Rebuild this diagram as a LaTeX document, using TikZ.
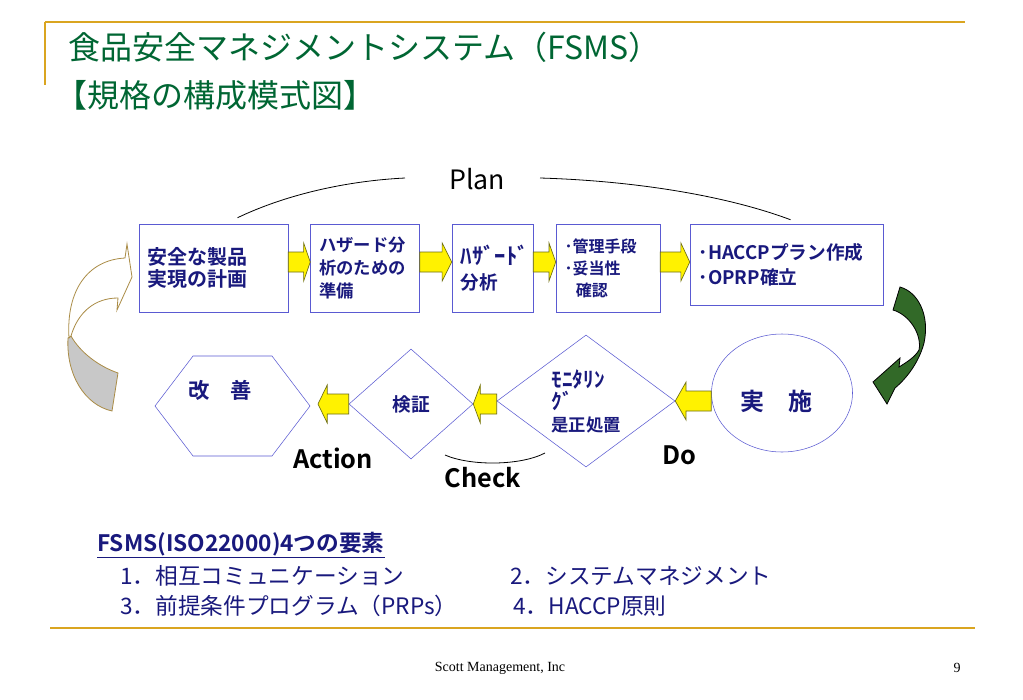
\documentclass[tikz,border=0pt]{standalone}
\usepackage{fontspec}
\setmainfont{Noto Sans CJK JP}[BoldFont={Noto Sans CJK JP Bold}]
\newfontfamily\footfont{Liberation Serif}
\usepackage{tikz}
\usetikzlibrary{shapes.geometric,calc}

\definecolor{titlegreen}{RGB}{0,102,51}
\definecolor{navytext}{RGB}{25,25,125}
\definecolor{shapeblue}{RGB}{90,90,210}
\definecolor{rulegold}{RGB}{218,165,32}
\definecolor{arrowgreen}{RGB}{50,105,40}
\definecolor{curvetan}{RGB}{170,140,70}
\definecolor{curvegray}{RGB}{200,200,200}
\definecolor{arrowedge}{RGB}{110,110,20}

\newcommand{\blockarrow}[2]{%
  \coordinate (ba-s) at #1;
  \coordinate (ba-e) at #2;
  \draw[blockarr] ($(ba-s)+(0,7.5pt)$) -- ($(ba-s)!0.7!(ba-e)+(0,7.5pt)$)
    -- ($(ba-s)!0.7!(ba-e)+(0,14.25pt)$) -- (ba-e)
    -- ($(ba-s)!0.7!(ba-e)-(0,14.25pt)$) -- ($(ba-s)!0.7!(ba-e)-(0,7.5pt)$)
    -- ($(ba-s)-(0,7.5pt)$) -- cycle;}

\begin{document}
\begin{tikzpicture}[x=0.75pt,y=-0.75pt,
  goldrule/.style={draw=rulegold,line width=1.2pt},
  titletext/.style={anchor=west,inner sep=0pt,text=titlegreen,font=\fontsize{24}{28}\selectfont},
  box/.style={draw=shapeblue,thin,align=left,inner xsep=6.5pt,inner ysep=0pt,minimum height=66pt,text=navytext},
  shapeline/.style={draw=shapeblue,thin},
  shapetext/.style={text=navytext,inner sep=0pt},
  blockarr/.style={fill=yellow,draw=arrowedge,line width=0.5pt},
  thinline/.style={draw=black,line width=0.6pt},
  pdca/.style={font=\fontsize{19}{21}\selectfont\bfseries},
  listitem/.style={anchor=west,inner sep=0pt,text=navytext,font=\fontsize{17}{20}\selectfont}]

\fill[white] (0,0) rectangle (1023,699);
\useasboundingbox (0,0) rectangle (1023,699);

\draw[goldrule] (45,22) -- (965,22);
\draw[goldrule] (45,22) -- (45,85);
\draw[goldrule] (50,628) -- (975,628);

\node[titletext] (title1) at (68,47) {食品安全マネジメントシステム（FSMS）};
\node[titletext] (title2) at (55,95) {【規格の構成模式図】};

% plan row
\node[box,text width=98.75pt,font=\fontsize{15}{17}\selectfont\bfseries] (b1) at (213.5,268) {安全な製品\\実現の計画};
\node[box,text width=68.75pt,font=\fontsize{13}{17}\selectfont\bfseries] (b2) at (365,268) {ハザード分\\析のための\\準備};
\node[box,text width=47.75pt,font=\fontsize{14}{19}\selectfont\bfseries] (b3) at (492.5,268) {{\fontsize{17}{19}\selectfont ﾊｻﾞｰﾄﾞ}\\分析};
\node[box,text width=65pt,font=\fontsize{12}{16.5}\selectfont\bfseries] (b4) at (608,268) {･管理手段\\･妥当性\\\hspace*{0.7em}確認};
\node[box,text width=131.75pt,minimum height=60.75pt,font=\fontsize{14}{19}\selectfont\bfseries] (b5) at (786.5,264.5) {･HACCPプラン作成\\･OPRP確立};

\coordinate (rowA) at (0,262);
\blockarrow{(b1.east |- rowA)}{(b2.west |- rowA)}
\blockarrow{(b2.east |- rowA)}{(b3.west |- rowA)}
\blockarrow{(b3.east |- rowA)}{(b4.west |- rowA)}
\blockarrow{(b4.east |- rowA)}{(b5.west |- rowA)}

\node[font=\fontsize{20}{22}\selectfont] (plan) at (477,179) {Plan};
\coordinate (planL) at (405,178);
\coordinate (planR) at (540,178);
\draw[thinline] (planL) .. controls (345,181) and (285,195) .. ([shift={(24,-6)}]b1.north);
\draw[thinline] (planR) .. controls (640,181) and (730,197) .. ([shift={(4,-4)}]b5.north);

% do / check / act row
\draw[shapeline] (155,406) -- (193,356) -- (272,356) -- (310,406) coordinate (hexE) -- (272,456) -- (193,456) -- cycle;
\node[shapetext,font=\fontsize{16}{18}\selectfont\bfseries] (kaizen) at (220,390) {改　善};
\node[diamond,shapeline,minimum width=93pt,minimum height=82.5pt,aspect=1.13,inner sep=0pt,text=navytext,font=\fontsize{14}{16}\selectfont\bfseries] (d1) at (411,404) {検証};
\node[diamond,shapeline,minimum width=133.5pt,minimum height=99pt,aspect=1.35,inner sep=0pt,align=left,text=navytext,font=\fontsize{13}{16.5}\selectfont\bfseries] (d2) at (586,401) {{\fontsize{16}{16.5}\selectfont ﾓﾆﾀﾘﾝ}\\{\fontsize{16}{16.5}\selectfont ｸﾞ}\\是正処置};
\node[ellipse,shapeline,minimum width=105.75pt,minimum height=88.5pt,inner sep=0pt] (el) at (782,393) {};
\node[shapetext,font=\fontsize{18}{20}\selectfont\bfseries] (jisshi) at (776,401) {実　施};

\coordinate (kaizenIn) at (318,404);
\blockarrow{(d1.west)}{(kaizenIn)}
\blockarrow{(d2.west |- d1)}{(d1.east)}
\blockarrow{(el.west |- d2)}{(d2.east)}

\node[pdca] (action) at (333,458) {Action};
\node[pdca] (check) at (483,478) {Check};
\node[pdca] (do) at (679,455) {Do};
\draw[thinline] (445,455) .. controls (470,466) and (520,466) .. (545,453);

% loop arrows
\draw[draw=curvetan,fill=curvegray,line width=0.6pt] (68,338) .. controls (66,375) and (85,405) .. (112,411)
  -- (118,373) .. controls (98,366) and (80,352) .. (71,336) -- cycle;
\draw[draw=curvetan,fill=white,line width=0.6pt] (69,338) .. controls (66,290) and (88,260) .. (125,258)
  -- (127,244) -- (132,277) -- (117,310) -- (118,298) .. controls (95,298) and (78,312) .. (71,336) -- cycle;
\draw[draw=black,fill=arrowgreen,line width=0.6pt] (900,287) .. controls (918,292) and (930,315) .. (924,343)
  .. controls (919,362) and (907,378) .. (895,388) -- (887,404) -- (873,382) -- (900,358) -- (899,367)
  .. controls (907,362) and (915,357) .. (919,350) .. controls (922,335) and (910,315) .. (893,310) -- cycle;

% elements
\node[listitem,font=\fontsize{17}{20}\selectfont\bfseries] (elemhead) at (97,545) {\underline{FSMS(ISO22000)4つの要素}};
\node[listitem] (item1) at (120,576) {1．相互コミュニケーション};
\node[listitem] (item2) at (510,576) {2．システムマネジメント};
\node[listitem] (item3) at (120,606) {3．前提条件プログラム（PRPs）};
\node[listitem] (item4) at (513,606) {4．HACCP原則};

\node[font=\footfont\fontsize{10.5}{12}\selectfont] (foot) at (500,668) {Scott Management, Inc};
\node[font=\footfont\fontsize{10.5}{12}\selectfont] (pageno) at (957,668) {9};
\end{tikzpicture}
\end{document}
